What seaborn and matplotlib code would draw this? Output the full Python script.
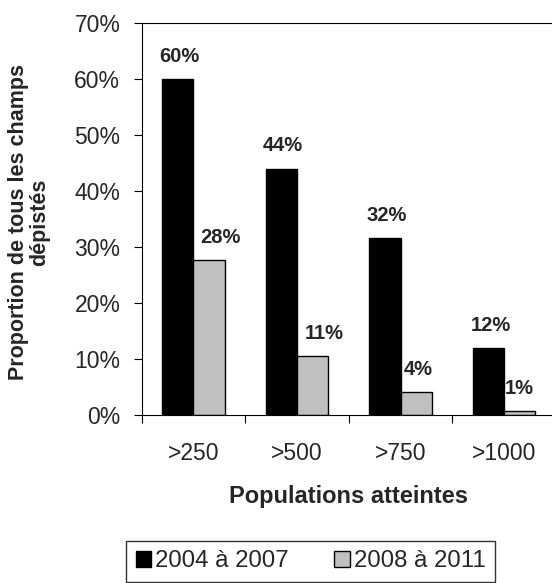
# -*- coding: utf-8 -*-

import matplotlib
matplotlib.use("Agg")
import matplotlib.pyplot as plt
import seaborn as sns
import pandas as pd
from matplotlib.ticker import PercentFormatter


categories = ['>250', '>500', '>750', '>1000']
periods = ['2004 à 2007', '2008 à 2011']
values_2004_2007 = [0.600, 0.440, 0.316, 0.119]
values_2008_2011 = [0.277, 0.106, 0.041, 0.007]
colors = ['#000000', '#c0c0c0']

# horizontal nudge of the value labels (points), like Excel places them
label_dx = [[1, 1, 1.5, 1.5], [8, 8.5, 1.5, 0]]

sns.set_style("white")
plt.rcParams['font.family'] = ['Liberation Sans', 'DejaVu Sans']

df = pd.DataFrame({
    'Populations': categories * 2,
    'Periode': [periods[0]] * len(categories) + [periods[1]] * len(categories),
    'Proportion': values_2004_2007 + values_2008_2011,
})

fig = plt.figure(figsize=(5.52, 5.83), dpi=100)
ax = fig.add_axes([0.2567, 0.2882, 0.7502, 0.6724])

sns.barplot(data=df, x='Populations', y='Proportion', hue='Periode',
            order=categories, hue_order=periods, palette=colors,
            width=0.6, gap=0, edgecolor='black', linewidth=1,
            saturation=1, errorbar=None, ax=ax)

# value labels above bars
for k, cont in enumerate(ax.containers):
    for i, p in enumerate(cont):
        h = p.get_height()
        ax.annotate('{:.0f}%'.format(h * 100),
                    xy=(p.get_x() + p.get_width() / 2, h),
                    xytext=(label_dx[k][i], 12.3), textcoords='offset points',
                    ha='center', va='baseline',
                    fontsize=14.5, fontweight='bold')

ax.set_xlim(-0.5, len(categories) - 0.5)
ax.set_ylim(0, 0.7)
ax.set_yticks([i / 10 for i in range(8)])
ax.yaxis.set_major_formatter(PercentFormatter(1.0, decimals=0))
ax.set_xticks([i - 0.5 for i in range(len(categories) + 1)], minor=True)

ax.tick_params(axis='y', which='major', direction='out', length=5.8,
               width=0.8, color='black', pad=9.6, labelsize=16.5, left=True)
ax.tick_params(axis='x', which='major', length=0, pad=19.5, labelsize=16.5)
ax.tick_params(axis='x', which='minor', direction='out', length=5.5,
               width=0.8, color='black', bottom=True)

for s in ax.spines.values():
    s.set_color('black')
    s.set_linewidth(0.8)

ax.set_ylabel('Proportion de tous les champs\ndépistés', fontsize=15.5,
              fontweight='bold', linespacing=1.0, va='center')
ax.yaxis.set_label_coords(-0.272, 0.492)
ax.set_xlabel('Populations atteintes', fontsize=17, fontweight='bold',
              va='baseline')
ax.xaxis.set_label_coords(0.5, -0.2245)

handles, labels = ax.get_legend_handles_labels()
ax.get_legend().remove()
leg = fig.legend(handles, labels, loc='upper left',
                 bbox_to_anchor=(0.2283, 0.0726), ncol=2, frameon=True,
                 fancybox=False, edgecolor='black', fontsize=17.3,
                 handlelength=0.65, handleheight=0.65, handletextpad=0.16,
                 columnspacing=1.9, borderpad=0.4, borderaxespad=0)
leg.get_frame().set_linewidth(1)

plt.savefig('out.png', dpi=100)
